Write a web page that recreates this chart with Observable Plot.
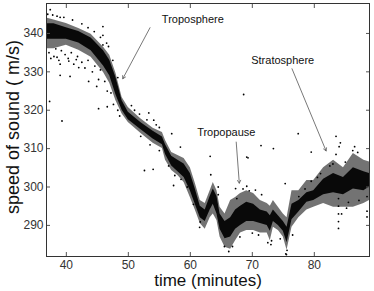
<!DOCTYPE html>
<html>
<head>
<meta charset="utf-8">
<script src="https://cdn.jsdelivr.net/npm/d3@7"></script>
<script src="https://cdn.jsdelivr.net/npm/@observablehq/plot@0.6"></script>
<style>
  html, body { margin: 0; padding: 0; background: #fff; }
  #chart svg { display: block; }
</style>
</head>
<body>
<div id="chart"></div>
<script>
// Dense measurement band: time (minutes), outer extent and dense core of speed of sound (m/s)
const time    = [36.8, 38, 40, 42, 44, 46, 47, 48, 49, 50, 52, 54, 55.5, 56, 57, 58, 59, 60, 60.8, 61.6, 62.4, 63.2, 63.7, 64.3, 64.8, 65.6, 66.5, 67.3, 68.1, 69.1, 70.2, 71.3, 72.4, 72.9, 73.4, 74.2, 75, 75.6, 76.4, 77.5, 78.8, 79.9, 81.5, 83.1, 84.7, 86.3, 88, 88.9];
const outerHi = [344, 343.5, 342.6, 341.3, 339.8, 336.4, 334.3, 329.6, 323.3, 320.7, 317.8, 315.3, 314.2, 312.1, 309, 308.2, 307.4, 305, 301, 296.5, 295.7, 299, 301.2, 299, 294.7, 293, 296.5, 297.3, 298.3, 299, 298.3, 296.5, 295.7, 295, 296.5, 294.7, 293, 292, 299, 299, 301.7, 301.7, 305, 307, 305, 308.7, 307, 306.5];
const outerLo = [336, 336, 336.9, 335.6, 333.8, 329.8, 327, 322.5, 319, 316.8, 314, 311.4, 310, 307, 304.3, 303, 301.2, 297.3, 294, 290.5, 289, 292, 293, 291.3, 287, 284.3, 283.8, 286, 288, 288.7, 288.7, 288, 288, 286, 289.5, 288.7, 287, 283.5, 289.5, 292, 294, 294.7, 295.7, 294.7, 294.7, 294.7, 295.7, 296.5];
const coreHi  = [342.5, 342.5, 341.5, 340.5, 338.8, 335.5, 333, 328.5, 322.5, 319.5, 316.8, 314.5, 313, 311, 308, 307, 306, 303.5, 299.5, 295, 294, 297.5, 299.5, 297.5, 293, 291, 292, 294, 295, 296, 295.5, 294, 293.5, 292.5, 294, 292.5, 291, 289.5, 295.5, 296.5, 298.5, 299, 302, 303.5, 302.5, 305, 304, 303.5];
const coreLo  = [338.5, 338.5, 338.5, 337.5, 335.5, 331.5, 329, 324, 320, 317.5, 315, 312.5, 311, 308.5, 305.5, 304, 302.5, 299, 295.5, 292, 291, 294, 295.5, 293, 289, 286.5, 287, 289, 290, 291, 291, 290.5, 290, 288.5, 291, 290, 288.5, 285.5, 291.5, 293.5, 296, 296.5, 298, 298.5, 298, 299.5, 299, 300];

// Individual scattered readings (time, speed)
const pointT = [37.4, 37.3, 39.3, 39.0, 40.6, 39.6, 45.9, 45.9, 45.9, 46.8, 45.2, 46.6, 53.3, 54.1, 57.0, 58.4, 52.6, 57.3, 63.2, 63.3, 64.5, 68.6, 69.1, 69.3, 71.4, 73.4, 77.4, 75.3, 79.5, 83.5, 83.9, 83.9, 83.9, 83.9, 83.9, 84.4, 88.5, 88.5, 61.6, 54.0, 67.3, 69.1,
  38.5, 39.0, 40.4, 42.0, 41.6, 43.6, 44.9,
  37.2, 37.5, 38.0, 38.3, 38.8, 39.2, 39.8, 40.3, 40.8, 41.2, 41.8, 42.5, 43.0, 43.5, 44.2, 44.6, 45.2, 45.5, 46.2, 46.6, 47.2, 47.6, 48.3, 48.6,
  37.0, 37.8, 38.5, 39.0, 41.0, 42.5, 43.5, 44.5, 45.5, 46.5, 47.5, 48.3,
  50.5, 51.0, 51.8, 53.0, 54.5, 55.0, 52.0, 53.5, 55.0, 56.5, 57.5, 58.5, 59.5, 60.5, 61.5,
  64.5, 65.5, 66.2, 66.8, 67.5, 68.5, 69.5, 70.5, 71.5, 68.0, 70.0, 71.0, 72.5, 73.0, 73.1, 74.5, 75.4, 75.6, 75.5, 76.5, 77.5, 78.5, 79.5, 80.5, 81.0, 82.5, 83.0, 83.5, 84.0, 84.2, 85.0, 86.2, 86.5, 87.0, 85.5, 85.2, 87.2, 88.5];
const pointV = [346.2, 322.3, 317.2, 329.1, 328.8, 344.2, 341.8, 339.5, 337.0, 336.6, 320.4, 320.9, 319.3, 317.4, 313.9, 310.4, 304.3, 300.4, 308.0, 303.2, 300.0, 324.1, 307.8, 307.6, 310.8, 310.0, 313.9, 300.9, 309.1, 313.2, 297.0, 295.0, 293.0, 291.0, 289.2, 293.0, 292.2, 293.7, 290.9, 304.6, 299.6, 300.2,
  333.8, 332.0, 332.8, 331.1, 333.2, 327.5, 326.2,
  335.0, 333.5, 334.0, 336.0, 333.0, 335.5, 334.5, 333.5, 335.0, 332.0, 334.0, 332.5, 331.0, 333.0, 330.0, 331.5, 328.0, 330.5, 327.5, 325.0, 324.5, 321.5, 320.0, 318.5,
  345.0, 344.8, 344.5, 344.2, 343.5, 342.5, 341.5, 340.5, 339.0, 337.5, 333.0, 328.5,
  321.2, 320.0, 319.0, 317.5, 316.2, 315.5, 313.2, 311.0, 309.5, 305.5, 303.0, 302.0, 300.0, 295.5, 289.5,
  298.0, 284.5, 283.2, 284.5, 297.0, 299.5, 299.0, 299.2, 298.0, 287.0, 288.0, 287.5, 285.5, 285.0, 286.0, 286.5, 282.6, 283.5, 282.4, 287.5, 297.5, 299.5, 301.5, 302.5, 303.5, 305.5, 306.0, 308.5, 310.5, 311.5, 306.5, 309.5, 310.5, 309.0, 296.0, 294.5, 296.5, 297.5];

// Annotations
const annText = ["Troposphere", "Tropopause", "Stratosphere"];
const annT = [60.4, 65.8, 74.9];
const annV = [343.6, 314.2, 333.0];
const arrowT1 = [53.5, 67.4, 76.4];
const arrowV1 = [341.5, 311.7, 330.8];
const arrowT2 = [49.1, 67.9, 81.9];
const arrowV2 = [328.2, 301.0, 309.4];

const xTicks = [40, 50, 60, 70, 80];
const yTicks = [290, 300, 310, 320, 330, 340];
const xDomain = [36.8, 88.9];
const yDomain = [281.9, 347.8];

const band = time.map((t, i) => ({t, hi: outerHi[i], lo: outerLo[i], ch: coreHi[i], cl: coreLo[i]}));
const points = pointT.map((t, i) => ({t, v: pointV[i]}));
const ann = annText.map((s, i) => ({s, t: annT[i], v: annV[i]}));
const arrows = arrowT1.map((t, i) => ({x1: t, y1: arrowV1[i], x2: arrowT2[i], y2: arrowV2[i]}));

const font = "'Liberation Sans', Arial, Helvetica, sans-serif";

const chart = Plot.plot({
  width: 374,
  height: 291,
  marginLeft: 46,
  marginRight: 5,
  marginTop: 3,
  marginBottom: 35,
  style: {fontFamily: font, background: "#fff", color: "#222"},
  x: {domain: xDomain},
  y: {domain: yDomain},
  marks: [
    Plot.areaY(band, {x: "t", y1: "lo", y2: "hi", fill: "#000", fillOpacity: 0.55}),
    Plot.areaY(band, {x: "t", y1: "cl", y2: "ch", fill: "#000", fillOpacity: 0.92}),
    Plot.dot(points, {x: "t", y: "v", r: 0.9, fill: "#000", stroke: null}),
    Plot.arrow(arrows, {x1: "x1", y1: "y1", x2: "x2", y2: "y2", stroke: "#555", strokeWidth: 0.8, headLength: 6}),
    Plot.text(ann, {x: "t", y: "v", text: "s", fontSize: 11, fill: "#111"}),
    Plot.axisX({ticks: xTicks, anchor: "bottom", tickSize: -4, tickPadding: 8, fontSize: 12, fill: "#333", stroke: "#555", label: null}),
    Plot.axisX({ticks: xTicks, anchor: "top", tickSize: -4, tickFormat: () => "", stroke: "#555", label: null}),
    Plot.axisY({ticks: yTicks, anchor: "left", tickSize: -4, tickPadding: 7, fontSize: 12, fill: "#333", stroke: "#555", label: null}),
    Plot.axisY({ticks: yTicks, anchor: "right", tickSize: -4, tickFormat: () => "", stroke: "#555", label: null}),
    Plot.frame({stroke: "#333"}),
    Plot.text(["time (minutes)"], {frameAnchor: "bottom", dy: 24, lineAnchor: "middle", textAnchor: "middle", fontSize: 17, fill: "#111"}),
    Plot.text(["speed of sound ( m/s)"], {frameAnchor: "left", dx: -33, dy: -3, rotate: -90, lineAnchor: "middle", textAnchor: "middle", fontSize: 18, fill: "#111"})
  ]
});
document.getElementById("chart").appendChild(chart);
</script>
</body>
</html>
